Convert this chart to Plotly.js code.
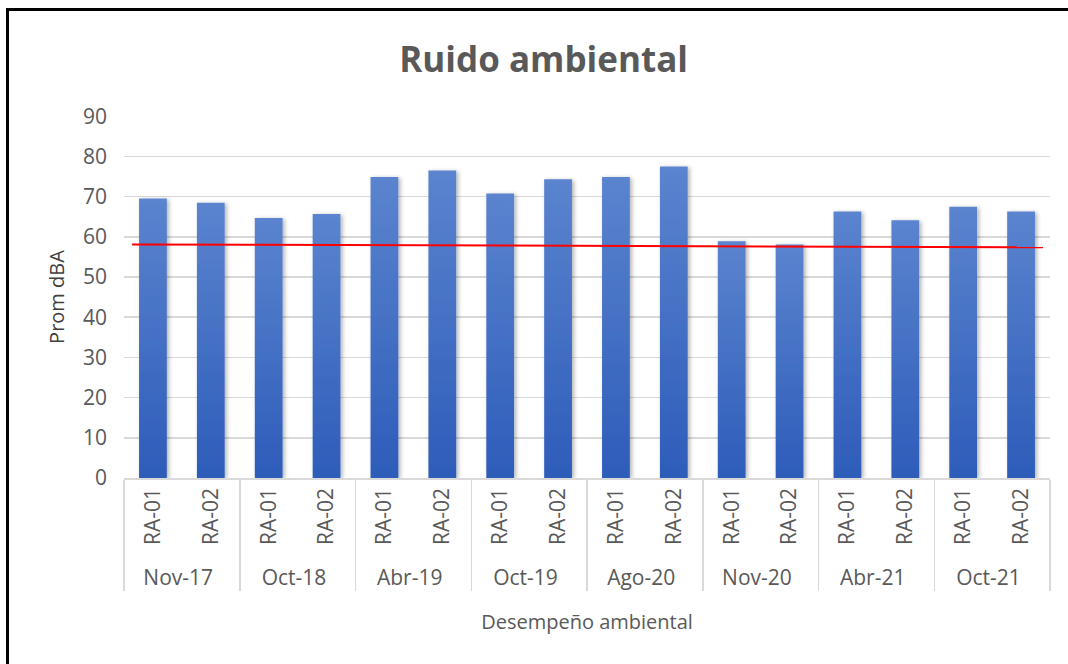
<!DOCTYPE html>
<html>
<head>
<meta charset="utf-8">
<script src="https://cdn.plot.ly/plotly-3.0.1.min.js"></script>
<style>
  html, body { margin:0; padding:0; background:#fff; }
  #wrap { position:relative; width:1068px; height:664px; overflow:hidden; }
  #frame { position:absolute; left:6px; top:8px; width:1100px; height:700px;
           border-top:3px solid #000; border-left:3px solid #000; box-sizing:border-box; pointer-events:none; z-index:5; }
  #chart { position:absolute; left:0; top:0; width:1068px; height:664px; }
</style>
</head>
<body>
<div id="wrap">
  <div id="chart"></div>
  <div id="frame"></div>
</div>
<script>
// ---- data ----
const periods = ["Nov-17","Oct-18","Abr-19","Oct-19","Ago-20","Nov-20","Abr-21","Oct-21"];
const points = ["RA-01","RA-02"];
const promDBA = [69.5, 68.5, 64.7, 65.7, 74.9, 76.5, 70.8, 74.3, 74.9, 77.5, 58.9, 58.1, 66.3, 64.1, 67.5, 66.3];
const limitX = [-0.36, 15.38];
const limitY = [58.1, 57.4];
const yTicks = [0,10,20,30,40,50,60,70,80,90];

const groupLevel = [], pointLevel = [];
periods.forEach(p => points.forEach(r => { groupLevel.push(p); pointLevel.push(r); }));

const FONT = "'Open Sans', 'Noto Sans', sans-serif";
const GREY = "#595959";

const traces = [
  {
    type: "bar",
    x: [groupLevel, pointLevel],
    y: promDBA,
    marker: { color: "#4472c4", line: { width: 0 } },
    hoverinfo: "y",
    showlegend: false
  },
  {
    type: "scatter",
    mode: "lines",
    x: limitX,
    y: limitY,
    xaxis: "x2",
    line: { color: "#ff0000", width: 2 },
    showlegend: false,
    hoverinfo: "skip"
  }
];

const layout = {
  width: 1068, height: 664,
  margin: { l: 124, r: 18, t: 116, b: 186 },
  paper_bgcolor: "#ffffff",
  plot_bgcolor: "#ffffff",
  font: { family: FONT, color: GREY, size: 21 },
  title: {
    text: "<b>Ruido ambiental</b>",
    font: { family: FONT, size: 35, color: GREY },
    x: 0.509, xref: "container", xanchor: "center",
    y: 0.91, yref: "container", yanchor: "middle"
  },
  bargap: 0.52,
  xaxis: {
    type: "multicategory",
    tickangle: -90,
    tickfont: { family: FONT, size: 21, color: GREY },
    showdividers: true,
    dividercolor: "#d9d9d9",
    dividerwidth: 1.5,
    showline: true,
    linecolor: "#d9d9d9",
    linewidth: 1.5,
    showgrid: false,
    zeroline: false,
    ticks: "",
    title: { text: "Desempeño ambiental", font: { family: FONT, size: 20, color: GREY }, standoff: 25 }
  },
  xaxis2: {
    overlaying: "x",
    range: [-0.5, 15.5],
    visible: false
  },
  yaxis: {
    range: [0, 90.05],
    tickvals: yTicks,
    ticktext: yTicks.map(String),
    tickfont: { family: FONT, size: 21, color: GREY },
    ticklabelstandoff: 16,
    showgrid: true,
    gridcolor: "#d9d9d9",
    gridwidth: 1.5,
    zeroline: false,
    showline: false,
    ticks: "",
    ticklen: 0,
    title: { text: "Prom dBA", font: { family: FONT, size: 20, color: "#404040" }, standoff: 12 }
  }
};

Plotly.newPlot("chart", traces, layout, { displayModeBar: false, staticPlot: true }).then(gd => {
  // gradient fill + soft shadow for bars (Excel style)
  const svg = gd.querySelector(".main-svg");
  const ns = "http://www.w3.org/2000/svg";
  let defs = svg.querySelector("defs");
  if (!defs) { defs = document.createElementNS(ns, "defs"); svg.insertBefore(defs, svg.firstChild); }
  const grad = document.createElementNS(ns, "linearGradient");
  grad.setAttribute("id", "barGrad");
  grad.setAttribute("x1", "0"); grad.setAttribute("y1", "0");
  grad.setAttribute("x2", "0"); grad.setAttribute("y2", "1");
  [["0%", "#5b84cf"], ["100%", "#2d5cb9"]].forEach(([o, c]) => {
    const s = document.createElementNS(ns, "stop");
    s.setAttribute("offset", o); s.setAttribute("stop-color", c);
    grad.appendChild(s);
  });
  defs.appendChild(grad);
  const filt = document.createElementNS(ns, "filter");
  filt.setAttribute("id", "barShadow");
  filt.setAttribute("x", "-30%"); filt.setAttribute("y", "-10%");
  filt.setAttribute("width", "160%"); filt.setAttribute("height", "120%");
  const ds = document.createElementNS(ns, "feDropShadow");
  ds.setAttribute("dx", "2"); ds.setAttribute("dy", "1");
  ds.setAttribute("stdDeviation", "2");
  ds.setAttribute("flood-color", "#000"); ds.setAttribute("flood-opacity", "0.3");
  filt.appendChild(ds);
  defs.appendChild(filt);
  gd.querySelectorAll(".barlayer .point path").forEach(p => {
    p.style.fill = "url(#barGrad)";
    p.setAttribute("filter", "url(#barShadow)");
  });
});
</script>
</body>
</html>
